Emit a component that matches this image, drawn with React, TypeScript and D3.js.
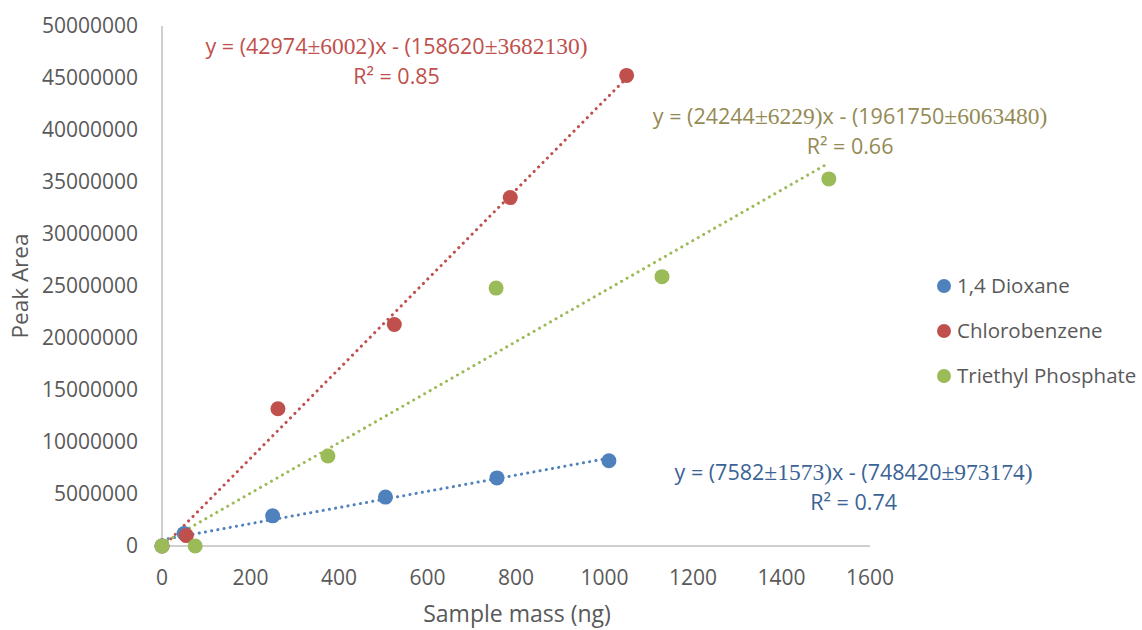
import React from "react";
import * as d3 from "d3";

const xTicks = [0, 200, 400, 600, 800, 1000, 1200, 1400, 1600];
const yTicks = [0, 5000000, 10000000, 15000000, 20000000, 25000000, 30000000, 35000000, 40000000, 45000000, 50000000];

const seriesNames = ["1,4 Dioxane", "Chlorobenzene", "Triethyl Phosphate"];
const seriesColors = ["#4F81BD", "#C0504D", "#9BBB59"];
const eqColors = ["#3B6396", "#C0504D", "#948A54"];

const dioxaneX = [0, 50, 250, 505, 757, 1010];
const dioxaneY = [0, 1200000, 2900000, 4700000, 6550000, 8200000];
const chloroX = [0, 55, 262, 525, 787, 1050];
const chloroY = [0, 1000000, 13200000, 21300000, 33500000, 45250000];
const tepX = [0, 75, 375, 755, 1130, 1507];
const tepY = [0, 0, 8650000, 24800000, 25900000, 35300000];

const eqMain = [
  ["y = (7582", "±1573)", "x - (748420", "±973174)"],
  ["y = (42974", "±6002)", "x - (158620", "±3682130)"],
  ["y = (24244", "±6229)", "x - (1961750", "±6063480)"],
];
const eqR2 = ["R² = 0.74", "R² = 0.85", "R² = 0.66"];
// label anchor positions in data units (x, y)
const eqPosX = [1563, 530, 1555];
const eqPosY = [7050000, 48000000, 41300000];

const W = 1142;
const H = 630;
const sans = "'Open Sans', 'Noto Sans', sans-serif";
const serif = "'Liberation Serif', 'DejaVu Serif', serif";

function ols(xs: number[], ys: number[]) {
  const mx = d3.mean(xs)!;
  const my = d3.mean(ys)!;
  let sxy = 0;
  let sxx = 0;
  xs.forEach((x, i) => {
    sxy += (x - mx) * (ys[i] - my);
    sxx += (x - mx) * (x - mx);
  });
  const b = sxy / sxx;
  return { b, a: my - b * mx };
}

export default function App() {
  const x = d3.scaleLinear().domain([0, 1600]).range([162, 870]);
  const y = d3.scaleLinear().domain([0, 50000000]).range([546, 26]);
  const series = [
    { xs: dioxaneX, ys: dioxaneY },
    { xs: chloroX, ys: chloroY },
    { xs: tepX, ys: tepY },
  ];
  const line = d3
    .line<[number, number]>()
    .x((d) => x(d[0]))
    .y((d) => y(d[1]));
  const axisColor = "#BFBFBF";
  const textColor = "#595959";

  return (
    <svg width={W} height={H} style={{ position: "fixed", left: 0, top: 0, background: "#fff" }}>
      {/* axes */}
      <line x1={x(0)} x2={x(0)} y1={y(50000000)} y2={y(0)} stroke={axisColor} strokeWidth={1.5} />
      <line x1={x(0)} x2={x(1600)} y1={y(0)} y2={y(0)} stroke={axisColor} strokeWidth={1.5} />
      {yTicks.map((t) => (
        <text key={t} x={138} y={y(t)} dy="0.35em" textAnchor="end" fontFamily={sans} fontSize={21} fill={textColor}>
          {t}
        </text>
      ))}
      {xTicks.map((t) => (
        <text key={t} x={x(t)} y={578} dy="0.35em" textAnchor="middle" fontFamily={sans} fontSize={21} fill={textColor}>
          {t}
        </text>
      ))}
      <text x={517} y={614} dy="0.35em" textAnchor="middle" fontFamily={sans} fontSize={23} fill={textColor}>
        Sample mass (ng)
      </text>
      <text
        transform={`translate(20,${y(25000000)}) rotate(-90)`}
        dy="0.35em"
        textAnchor="middle"
        fontFamily={sans}
        fontSize={22.5}
        fill={textColor}
      >
        Peak Area
      </text>

      {/* trend lines */}
      {series.map((s, i) => {
        const { a, b } = ols(s.xs, s.ys);
        const x0 = d3.min(s.xs)!;
        const x1 = d3.max(s.xs)!;
        return (
          <path
            key={"t" + i}
            d={line([
              [x0, a + b * x0],
              [x1, a + b * x1],
            ])!}
            stroke={seriesColors[i]}
            strokeWidth={3}
            strokeDasharray="0.1 6.2"
            strokeLinecap="round"
            fill="none"
          />
        );
      })}

      {/* points */}
      {series.map((s, i) =>
        s.xs.map((xv, j) => (
          <circle key={`p${i}-${j}`} cx={x(xv)} cy={y(s.ys[j])} r={7.5} fill={seriesColors[i]} />
        ))
      )}

      {/* equations */}
      {eqMain.map((parts, i) => {
        const cx = x(eqPosX[i]);
        const cy = y(eqPosY[i]);
        return (
          <g key={"e" + i} fill={eqColors[i]} fontSize={21.5}>
            <text x={cx} y={cy} dy="0.35em" textAnchor="middle" fontFamily={sans}>
              <tspan>{parts[0]}</tspan>
              <tspan fontFamily={serif} fontSize={23.5}>{parts[1]}</tspan>
              <tspan>{parts[2]}</tspan>
              <tspan fontFamily={serif} fontSize={23.5}>{parts[3]}</tspan>
            </text>
            <text x={cx} y={cy + 30} dy="0.35em" textAnchor="middle" fontFamily={sans}>
              {eqR2[i]}
            </text>
          </g>
        );
      })}

      {/* legend */}
      {seriesNames.map((n, i) => (
        <g key={n} transform={`translate(944,${286 + i * 45})`}>
          <circle r={7} fill={seriesColors[i]} />
          <text x={13} dy="0.35em" fontFamily={sans} fontSize={20.5} fill={textColor}>
            {n}
          </text>
        </g>
      ))}
    </svg>
  );
}
